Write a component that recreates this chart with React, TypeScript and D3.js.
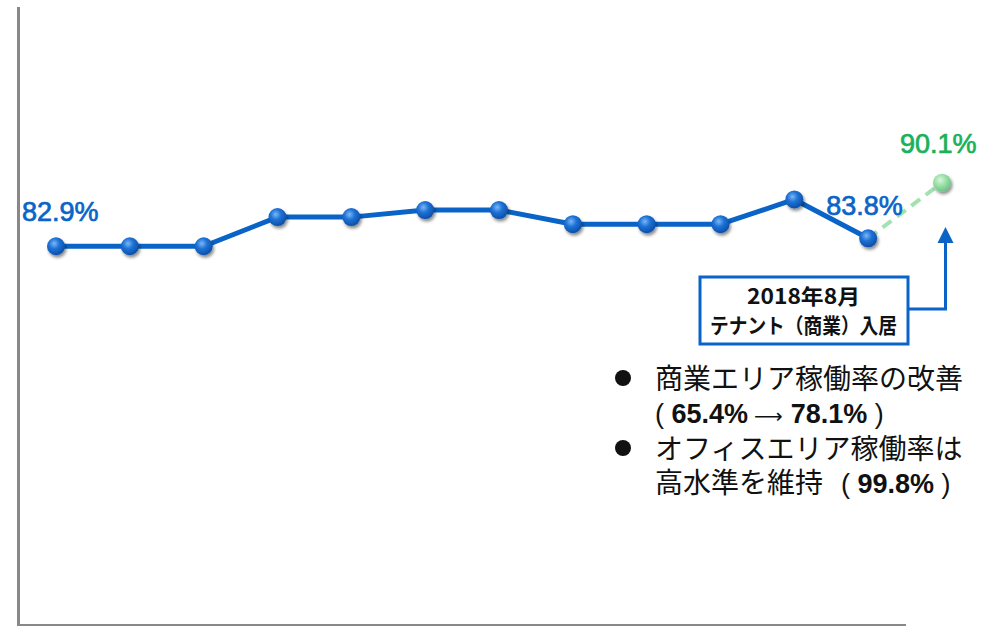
import React from "react";
import * as d3 from "d3";

const periods = ["P1", "P2", "P3", "P4", "P5", "P6", "P7", "P8", "P9", "P10", "P11", "P12", "P13"];
const actualValues = [82.9, 82.9, 82.9, 86.2, 86.2, 87.0, 87.0, 85.4, 85.4, 85.4, 88.2, 83.8];
const forecastValue = 90.1;
const firstLabel = "82.9%";
const lastLabel = "83.8%";
const forecastLabel = "90.1%";
const noteLines = ["2018年8月", "テナント（商業）入居"];
const bulletHeads = ["商業エリア稼働率の改善", "オフィスエリア稼働率は"];
const bulletPrefix = ["", "高水準を維持"];
const bulletFrom = ["65.4%", "99.8%"];
const bulletTo = ["78.1%", ""];

const W = 998;
const H = 626;

export default function App() {
  const x = d3.scalePoint<string>().domain(periods).range([56, 942]);
  const y = d3.scaleLinear().domain([40, 110]).range([625, 7]);

  const actual = actualValues.map((v, i) => ({ p: periods[i], v }));
  const forecast = [actual[actual.length - 1], { p: periods[periods.length - 1], v: forecastValue }];

  const line = d3
    .line<{ p: string; v: number }>()
    .x((d) => x(d.p)!)
    .y((d) => y(d.v));

  const last = actual[actual.length - 1];
  const fx = x(periods[periods.length - 1])!;
  const fy = y(forecastValue);

  const boxX = 700, boxY = 277, boxW = 208, boxH = 67;
  const arrowY = 309;
  const arrowTip = 227;

  const jpFont = "'Noto Sans CJK JP', 'Noto Sans', sans-serif";
  const numFont = "'Liberation Sans', Arial, sans-serif";
  const blue = "#0a64c8";

  const lineBase = [389, 459];
  const subBase = [423, 493];
  const bulletY = [378, 448];

  return (
    <div style={{ position: "absolute", left: 0, top: 0, width: W, height: H }}>
      <svg width={W} height={H} style={{ display: "block" }}>
        <defs>
          <radialGradient id="gBlue" cx="40%" cy="35%" r="65%">
            <stop offset="0%" stopColor="#7ab8f5" />
            <stop offset="45%" stopColor="#1f72d6" />
            <stop offset="100%" stopColor="#0a4fa8" />
          </radialGradient>
          <radialGradient id="gGreen" cx="40%" cy="35%" r="65%">
            <stop offset="0%" stopColor="#d8f5dc" />
            <stop offset="50%" stopColor="#9be0a8" />
            <stop offset="100%" stopColor="#6cc486" />
          </radialGradient>
          <filter id="shadow" x="-50%" y="-50%" width="200%" height="200%">
            <feDropShadow dx="1.5" dy="2.5" stdDeviation="1.8" floodColor="#000" floodOpacity="0.45" />
          </filter>
        </defs>

        {/* axes */}
        <line x1={18.5} y1={7} x2={18.5} y2={626} stroke="#888" strokeWidth={3} />
        <line x1={17} y1={625} x2={906} y2={625} stroke="#888" strokeWidth={2} />

        {/* forecast dashed line */}
        <path d={line(forecast)!} fill="none" stroke="#a3e2b0" strokeWidth={4} strokeDasharray="11,7" />

        {/* actual line */}
        <path d={line(actual)!} fill="none" stroke={blue} strokeWidth={5} strokeLinejoin="round" />

        {actual.map((d, i) => (
          <circle key={i} cx={x(d.p)!} cy={y(d.v)} r={9} fill="url(#gBlue)" filter="url(#shadow)" />
        ))}
        <circle cx={fx} cy={fy} r={9} fill="url(#gGreen)" filter="url(#shadow)" />

        {/* value labels */}
        <text x={22} y={221} fontFamily={numFont} fontSize={27} fill={blue} stroke={blue} strokeWidth={0.7}>
          {firstLabel}
        </text>
        <text x={x(last.p)! - 42} y={y(last.v) - 23} fontFamily={numFont} fontSize={27} fill={blue} stroke={blue} strokeWidth={0.7}>
          {lastLabel}
        </text>
        <text x={fx - 42} y={fy - 30} fontFamily={numFont} fontSize={27} fill="#19b15a" stroke="#19b15a" strokeWidth={0.7}>
          {forecastLabel}
        </text>

        {/* annotation box */}
        <rect x={boxX} y={boxY} width={boxW} height={boxH} fill="#fff" stroke={blue} strokeWidth={3} />
        <text x={747} y={304} fontFamily={jpFont} fontWeight={700} fontSize={21} fill="#111" textLength={113} lengthAdjust="spacingAndGlyphs">
          {noteLines[0]}
        </text>
        <text x={710} y={333} fontFamily={jpFont} fontWeight={700} fontSize={21} fill="#111" textLength={187} lengthAdjust="spacingAndGlyphs">
          {noteLines[1]}
        </text>
        <path d={`M${boxX + boxW},${arrowY} H${fx + 3.5} V${arrowTip + 14}`} fill="none" stroke={blue} strokeWidth={3} />
        <path d={`M${fx + 3.5},${arrowTip} L${fx + 11.5},${arrowTip + 16} L${fx - 4.5},${arrowTip + 16} Z`} fill={blue} />

        {/* bullets */}
        {bulletHeads.map((h, i) => (
          <g key={i}>
            <circle cx={623} cy={bulletY[i]} r={8} fill="#111" />
            <text x={655} y={lineBase[i]} fontFamily={jpFont} fontSize={28} fill="#111">
              {h}
            </text>
            <text x={655} y={subBase[i]} fontFamily={numFont} fontSize={27} fill="#111">
              {bulletPrefix[i] ? <tspan fontFamily={jpFont} fontSize={28}>{bulletPrefix[i]}</tspan> : null}
              <tspan dx={i === 0 ? 0 : 18}>( </tspan>
              <tspan fontWeight={700}>{bulletFrom[i]}</tspan>
              {bulletTo[i] ? (
                <>
                  <tspan dx={6} fontFamily="'DejaVu Sans', sans-serif" fontSize={20}>⟶</tspan>
                  <tspan dx={8} fontWeight={700}>{bulletTo[i]}</tspan>
                </>
              ) : null}
              <tspan> )</tspan>
            </text>
          </g>
        ))}
      </svg>
    </div>
  );
}
